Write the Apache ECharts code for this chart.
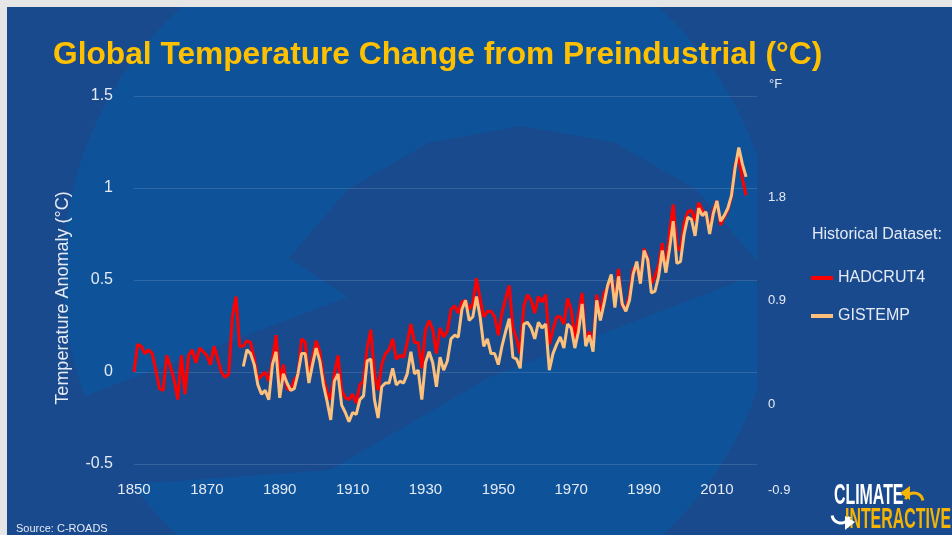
<!DOCTYPE html>
<html>
<head>
<meta charset="utf-8">
<script src="https://cdn.jsdelivr.net/npm/echarts@6/dist/echarts.min.js"></script>
<style>html,body{margin:0;padding:0;background:#e6e6e6}#c{width:952px;height:535px}</style>
</head>
<body>
<div id="c"></div>
<script>
// ---- data (°C above preindustrial) ----
const hadcrutStart = 1850;
const hadcrut = [
  0.00, 0.15, 0.14, 0.10, 0.12, 0.10, 0.01, -0.09, -0.10, 0.09,
  0.03, -0.04, -0.15, 0.09, -0.12, 0.09, 0.12, 0.05, 0.13, 0.11,
  0.09, 0.04, 0.14, 0.07, 0.00, -0.03, -0.01, 0.30, 0.41, 0.14,
  0.14, 0.17, 0.16, 0.07, -0.04, -0.02, 0.00, -0.05, 0.06, 0.20,
  -0.05, 0.04, -0.09, -0.10, -0.04, -0.02, 0.18, 0.16, -0.04, 0.08,
  0.17, 0.11, -0.03, -0.11, -0.15, -0.01, 0.09, -0.10, -0.14, -0.15,
  -0.12, -0.17, -0.07, -0.05, 0.13, 0.23, -0.01, -0.10, 0.04, 0.10,
  0.12, 0.18, 0.07, 0.09, 0.08, 0.16, 0.26, 0.16, 0.16, 0.02,
  0.23, 0.28, 0.23, 0.10, 0.24, 0.19, 0.22, 0.34, 0.36, 0.32,
  0.38, 0.39, 0.34, 0.37, 0.51, 0.40, 0.30, 0.33, 0.33, 0.30,
  0.20, 0.32, 0.40, 0.47, 0.24, 0.18, 0.10, 0.36, 0.42, 0.39,
  0.32, 0.41, 0.38, 0.42, 0.15, 0.23, 0.30, 0.30, 0.26, 0.40,
  0.34, 0.18, 0.31, 0.43, 0.16, 0.22, 0.13, 0.42, 0.31, 0.43,
  0.46, 0.51, 0.38, 0.56, 0.36, 0.34, 0.42, 0.56, 0.57, 0.49,
  0.67, 0.62, 0.48, 0.52, 0.58, 0.70, 0.55, 0.76, 0.91, 0.68,
  0.66, 0.81, 0.87, 0.88, 0.82, 0.92, 0.88, 0.86, 0.77, 0.88,
  0.93, 0.80, 0.84, 0.88, 0.95, 1.13, 1.17, 1.05, 0.96
];
const gistempStart = 1880;
const gistemp = [
  0.03, 0.12, 0.10, 0.04, -0.07, -0.12, -0.10, -0.15, 0.04, 0.11,
  -0.14, -0.01, -0.06, -0.10, -0.09, -0.01, 0.10, 0.10, -0.06, 0.04,
  0.13, 0.06, -0.07, -0.16, -0.26, -0.05, -0.01, -0.18, -0.22, -0.27,
  -0.22, -0.23, -0.15, -0.13, 0.06, 0.07, -0.15, -0.25, -0.08, -0.06,
  -0.06, 0.02, -0.07, -0.05, -0.06, -0.01, 0.11, -0.01, 0.01, -0.15,
  0.05, 0.11, 0.05, -0.08, 0.08, 0.01, 0.06, 0.18, 0.20, 0.19,
  0.34, 0.39, 0.28, 0.30, 0.41, 0.30, 0.14, 0.18, 0.10, 0.10,
  0.04, 0.14, 0.22, 0.29, 0.08, 0.07, 0.02, 0.26, 0.27, 0.24,
  0.18, 0.27, 0.24, 0.26, 0.01, 0.10, 0.15, 0.19, 0.13, 0.26,
  0.24, 0.13, 0.22, 0.37, 0.14, 0.20, 0.11, 0.39, 0.28, 0.37,
  0.47, 0.53, 0.35, 0.52, 0.37, 0.33, 0.39, 0.53, 0.60, 0.48,
  0.66, 0.61, 0.43, 0.44, 0.52, 0.66, 0.54, 0.67, 0.82, 0.59,
  0.60, 0.75, 0.84, 0.83, 0.74, 0.89, 0.85, 0.87, 0.75, 0.86,
  0.93, 0.82, 0.85, 0.89, 0.96, 1.11, 1.22, 1.13, 1.06
];
const seriesNames = ['HADCRUT4', 'GISTEMP'];
const celsiusAxis = { min: -0.5, max: 1.5, step: 0.5 };
const fahrenheitAxis = { min: -0.9, max: 1.8, step: 0.9, unit: '°F' };
const yearAxis = { min: 1850, max: 2021, step: 20 };

// ---- styles ----
const FONT = "'Liberation Sans', Arial, sans-serif";
const TXT = '#E4EAF4';
const DARK = '#1A4A8E';
const LIGHT = '#0E5399';
const GRAY = '#E6E6E6';

const toPairs = (start, arr) => arr.map((v, i) => [start + i, v]);

const chart = echarts.init(document.getElementById('c'), null, { renderer: 'canvas' });

// background watermark (decorative swirl)
const innerArc = [211, 230, 250, 270, 290, 310, 330].map(a => {
  const r = a * Math.PI / 180;
  return [522 + 272 * Math.cos(r), 398 + 272 * Math.sin(r)];
});
const darkPoly = [[490, 377], [330, 470], [120, 485], [50, 420], [90, 394], [348, 297]]
  .concat(innerArc).concat([[765, 282], [742, 280]]);

chart.setOption({
  animation: false,
  backgroundColor: GRAY,
  textStyle: { fontFamily: FONT },
  graphic: [
    { type: 'rect', z: -100, silent: true, shape: { x: 7, y: 7, width: 945, height: 528 }, style: { fill: DARK } },
    { type: 'circle', z: -99, silent: true, shape: { cx: 420, cy: 273, r: 357 }, style: { fill: LIGHT } },
    { type: 'polygon', z: -98, silent: true, shape: { points: darkPoly }, style: { fill: DARK } },
    { type: 'rect', z: -97, silent: true, shape: { x: 757, y: 7, width: 195, height: 528 }, style: { fill: DARK } },
    { type: 'rect', z: -96, silent: true, shape: { x: 0, y: 0, width: 952, height: 7 }, style: { fill: GRAY } },
    { type: 'rect', z: -96, silent: true, shape: { x: 0, y: 0, width: 7, height: 535 }, style: { fill: GRAY } },
    { type: 'text', z: 50, x: 769, y: 84, style: { text: fahrenheitAxis.unit, fill: TXT, font: "13px " + FONT, textVerticalAlign: 'middle' } },
    { type: 'text', z: 50, left: 16, top: 523, style: { text: 'Source: C-ROADS', fill: TXT, font: "11px " + FONT } },
    { type: 'text', z: 50, x: 834, y: 481, scaleX: 0.53, style: { text: 'CLIMATE', fill: '#FFFFFF', font: "bold 30px " + FONT, textVerticalAlign: 'top' } },
    { type: 'text', z: 50, x: 845, y: 505, scaleX: 0.53, style: { text: 'INTERACTIVE', fill: '#F6B400', font: "bold 30px " + FONT, textVerticalAlign: 'top' } },
    { type: 'arc', z: 50, shape: { cx: 914, cy: 502, r: 9, startAngle: Math.PI * 1.1, endAngle: Math.PI * 1.95 }, style: { stroke: '#F6B400', lineWidth: 3, fill: null } },
    { type: 'polygon', z: 50, shape: { points: [[900, 493], [910, 486], [910, 500]] }, style: { fill: '#F6B400' } },
    { type: 'arc', z: 50, shape: { cx: 841, cy: 514, r: 9, startAngle: Math.PI * 0.1, endAngle: Math.PI * 0.95, clockwise: true }, style: { stroke: '#FFFFFF', lineWidth: 3, fill: null } },
    { type: 'polygon', z: 50, shape: { points: [[855, 522], [845, 516], [845, 530]] }, style: { fill: '#FFFFFF' } }
  ],
  title: [
    { text: 'Global Temperature Change from Preindustrial (°C)', left: 53, top: 39, padding: 0,
      textStyle: { color: '#FFC000', fontSize: 31.7, fontWeight: 'bold', fontFamily: FONT } },
    { text: 'Historical Dataset:', left: 812, top: 227, padding: 0,
      textStyle: { color: TXT, fontSize: 16, fontWeight: 'normal', fontFamily: FONT } }
  ],
  legend: {
    data: seriesNames, orient: 'vertical', left: 811, top: 270, padding: 0,
    icon: 'rect', itemWidth: 22, itemHeight: 4, itemGap: 22,
    textStyle: { color: TXT, fontSize: 16, fontFamily: FONT }
  },
  grid: [
    { left: 134, right: 195, top: 96, bottom: 71 },
    { left: 134, right: 195, top: 197, bottom: 27.5 }
  ],
  xAxis: [
    { gridIndex: 0, type: 'value', min: yearAxis.min, max: yearAxis.max, interval: yearAxis.step,
      axisLine: { show: false }, axisTick: { show: false }, splitLine: { show: false },
      axisLabel: { color: TXT, fontSize: 15, margin: 18, fontFamily: FONT, showMaxLabel: false,
        formatter: v => String(v) } },
    { gridIndex: 1, type: 'value', show: false, min: 0, max: 1 }
  ],
  yAxis: [
    { gridIndex: 0, type: 'value', min: celsiusAxis.min, max: celsiusAxis.max, interval: celsiusAxis.step,
      axisLine: { show: false }, axisTick: { show: false },
      splitLine: { lineStyle: { color: 'rgba(255,255,255,0.13)', width: 1 } },
      axisLabel: { color: TXT, fontSize: 16, margin: 21, fontFamily: FONT },
      name: 'Temperature Anomaly (°C)', nameLocation: 'middle', nameRotate: 90, nameGap: 62,
      nameTextStyle: { color: TXT, fontSize: 18, fontFamily: FONT, padding: [0, 36, 0, 0] } },
    { gridIndex: 1, type: 'value', position: 'right', min: fahrenheitAxis.min, max: fahrenheitAxis.max, interval: fahrenheitAxis.step,
      axisLine: { show: false }, axisTick: { show: false }, splitLine: { show: false },
      axisLabel: { color: TXT, fontSize: 13, margin: 11, fontFamily: FONT,
        formatter: v => {
          const s = String(+(+v).toFixed(1));
          return Math.abs(v - fahrenheitAxis.min) < 1e-9 ? '{lo|' + s + '}' : s;
        },
        rich: { lo: { padding: [0, 0, 35, 0], fontSize: 13, color: TXT, fontFamily: FONT } } } }
  ],
  series: [
    { name: seriesNames[0], type: 'line', xAxisIndex: 0, yAxisIndex: 0, data: toPairs(hadcrutStart, hadcrut),
      showSymbol: false, symbol: 'none', lineStyle: { color: '#FF0000', width: 3 }, itemStyle: { color: '#FF0000' }, z: 3 },
    { name: seriesNames[1], type: 'line', xAxisIndex: 0, yAxisIndex: 0, data: toPairs(gistempStart, gistemp),
      showSymbol: false, symbol: 'none', lineStyle: { color: '#FBC17C', width: 3 }, itemStyle: { color: '#FBC17C' }, z: 4 }
  ]
});
</script>
</body>
</html>
